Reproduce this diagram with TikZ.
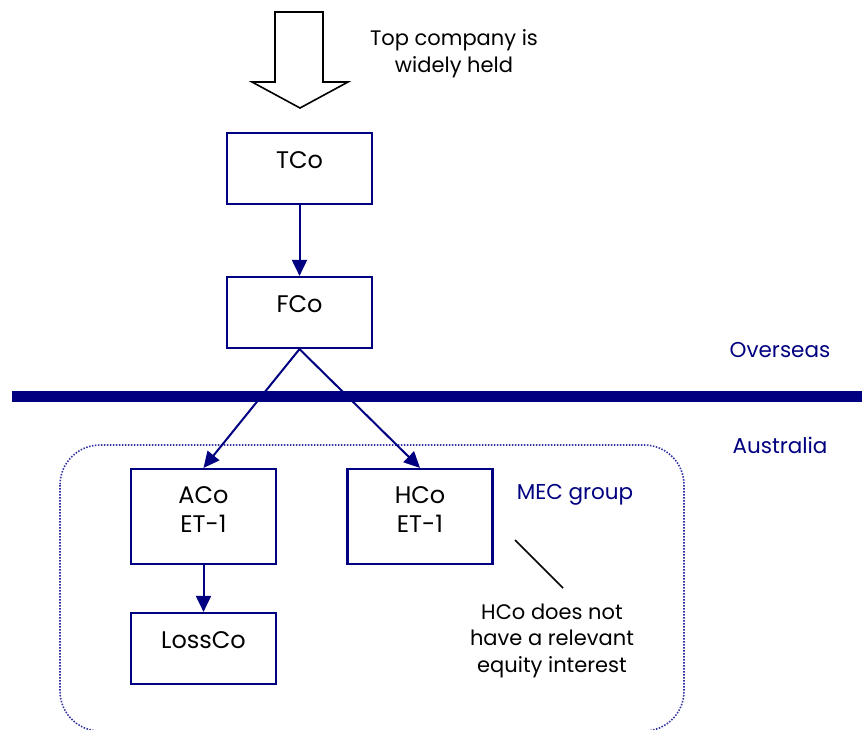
\documentclass[tikz,border=0pt]{standalone}
\usepackage{fontspec}
\setmainfont{Poppins}
\usetikzlibrary{arrows.meta}

\definecolor{navy}{RGB}{0,0,128}
\definecolor{dotblue}{RGB}{50,50,165}

\tikzset{
	company/.style={draw=navy, line width=2.2pt, minimum width=145pt, font=\fontsize{24}{29}\selectfont, align=center},
	owns/.style={navy, line width=2pt, -{Triangle[length=16pt, width=15pt]}},
	note/.style={font=\fontsize{21}{26.5}\selectfont, align=center, anchor=base},
	region/.style={navy, font=\fontsize{21.5}{26}\selectfont, anchor=base}
}

\begin{document}
\begin{tikzpicture}[x=1pt, y=-1pt]
			\useasboundingbox (0,0) rectangle (862,729);
			\draw [black, line width=1.6pt, line join=miter] (275,12) -- (323,12) -- (323,82) -- (348,82) -- (300,108) -- (252,82) -- (275,82) -- cycle;
			\node [note] (widely) at (454,72) {Top company is\\widely held};
			\node [company, minimum height=71pt, text height=18pt, text depth=18pt] (tco) at (299.5,168.5) {TCo};
			\node [company, minimum height=71pt, text height=18pt, text depth=18pt] (fco) at (299.5,312.5) {FCo};
			\draw [navy, line width=11pt] (12,396.5) -- (862,396.5);
			\node [region] (overseas) at (780,357) {Overseas};
			\node [region] (australia) at (780,453) {Australia};
			\draw [dotblue, line width=1.6pt, dash pattern=on 1.5pt off 1.5pt, rounded corners=40pt] (60,445) rectangle (684,731);
			\node [company, minimum height=95pt, text height=49pt, text depth=18pt] (aco) at (203.5,516.5) {ACo\\ET-1};
			\node [company, minimum height=95pt, text height=49pt, text depth=18pt] (hco) at (420,516.5) {HCo\\ET-1};
			\node [company, minimum height=71pt, text height=18pt, text depth=18pt] (lossco) at (203.5,648.5) {LossCo};
			\node [region] (mec) at (575,499) {MEC group};
			\node [note] (relevant) at (552,672) {HCo does not\\have a relevant\\equity interest};
			\draw [owns] (tco) -- (fco);
			\draw [owns] (fco.south) -- (aco.north);
			\draw [owns] (fco.south) -- (hco.north);
			\draw [owns] (aco) -- (lossco);
			% pointer to the note
			\coordinate (ptr) at (515,540);
			\coordinate (ptrend) at (563,588);
			\draw [black, line width=1.6pt] (ptr) -- (ptrend);
		\end{tikzpicture}
\end{document}
